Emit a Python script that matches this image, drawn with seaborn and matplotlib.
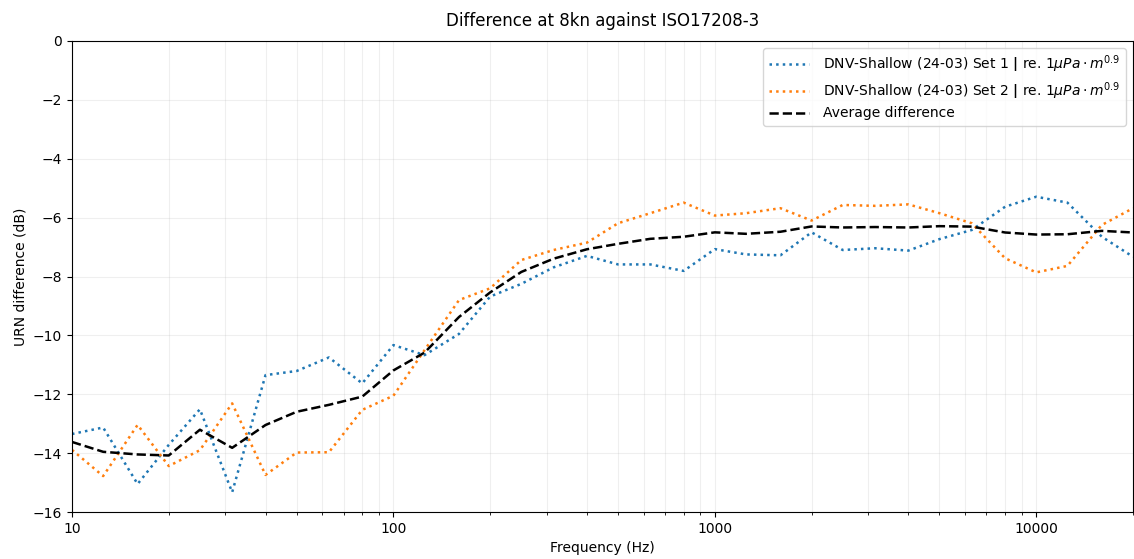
import numpy as np
import pandas as pd
import matplotlib
matplotlib.use("Agg")
import matplotlib.pyplot as plt
from matplotlib.ticker import FixedLocator, FixedFormatter, LogLocator, NullFormatter
import seaborn as sns

# Third-octave band centre frequencies (Hz)
freqs = [10, 12.5, 16, 20, 25, 31.5, 40, 50, 63, 80, 100, 125, 160, 200, 250,
         315, 400, 500, 630, 800, 1000, 1250, 1600, 2000, 2500, 3150, 4000,
         5000, 6300, 8000, 10000, 12500, 16000, 20000]

# Difference against ISO17208-3 (dB) for each measurement set
set1 = [-13.35, -13.13, -15.05, -13.72, -12.51, -15.33, -11.35, -11.21, -10.75,
        -11.63, -10.33, -10.67, -9.95, -8.68, -8.25, -7.69, -7.30, -7.59, -7.59,
        -7.81, -7.07, -7.25, -7.28, -6.50, -7.10, -7.04, -7.12, -6.73, -6.42,
        -5.63, -5.29, -5.49, -6.65, -7.33]
set2 = [-13.89, -14.78, -13.04, -14.44, -13.90, -12.31, -14.74, -13.98, -13.97,
        -12.53, -12.05, -10.50, -8.80, -8.40, -7.44, -7.10, -6.85, -6.19, -5.85,
        -5.49, -5.93, -5.85, -5.68, -6.10, -5.57, -5.60, -5.55, -5.85, -6.19,
        -7.38, -7.86, -7.64, -6.25, -5.68]

label1 = r"DNV-Shallow (24-03) Set 1 $\mathbf{|}$ re. 1$\mu Pa \cdot m^{0.9}$"
label2 = r"DNV-Shallow (24-03) Set 2 $\mathbf{|}$ re. 1$\mu Pa \cdot m^{0.9}$"
label_avg = "Average difference"

df = pd.DataFrame({"freq": freqs, "set1": set1, "set2": set2})
df["avg"] = df[["set1", "set2"]].mean(axis=1)

fig = plt.figure(figsize=(11.34, 5.59), dpi=100)
ax = fig.add_axes([72 / 1134, 1 - 512 / 559, (1133 - 72) / 1134, (512 - 41) / 559])

sns.lineplot(data=df, x="freq", y="set1", ax=ax, color="tab:blue",
             linestyle=":", linewidth=1.8, label=label1)
sns.lineplot(data=df, x="freq", y="set2", ax=ax, color="tab:orange",
             linestyle=":", linewidth=1.8, label=label2)
sns.lineplot(data=df, x="freq", y="avg", ax=ax, color="black",
             linestyle="--", linewidth=1.8, label=label_avg)

ax.set_xscale("log")
ax.set_xlim(10, 20000)
ax.set_ylim(-16, 0)
ax.set_yticks(np.arange(-16, 1, 2))

major = [10, 100, 1000, 10000]
ax.xaxis.set_major_locator(FixedLocator(major))
ax.xaxis.set_major_formatter(FixedFormatter([str(m) for m in major]))
ax.xaxis.set_minor_locator(LogLocator(base=10, subs=np.arange(2, 10) * 1.0, numticks=20))
ax.xaxis.set_minor_formatter(NullFormatter())

ax.grid(which="major", color="#b0b0b0", alpha=0.2, linewidth=0.8)
ax.grid(which="minor", axis="x", color="#b0b0b0", alpha=0.2, linewidth=0.8)

ax.set_xlabel("Frequency (Hz)")
ax.set_ylabel("URN difference (dB)")
ax.set_title("Difference at 8kn against ISO17208-3", pad=11)
ax.legend(loc="upper right", handlelength=2.9, handletextpad=1.0, labelspacing=0.35)

fig.savefig("out.png", dpi=100)
